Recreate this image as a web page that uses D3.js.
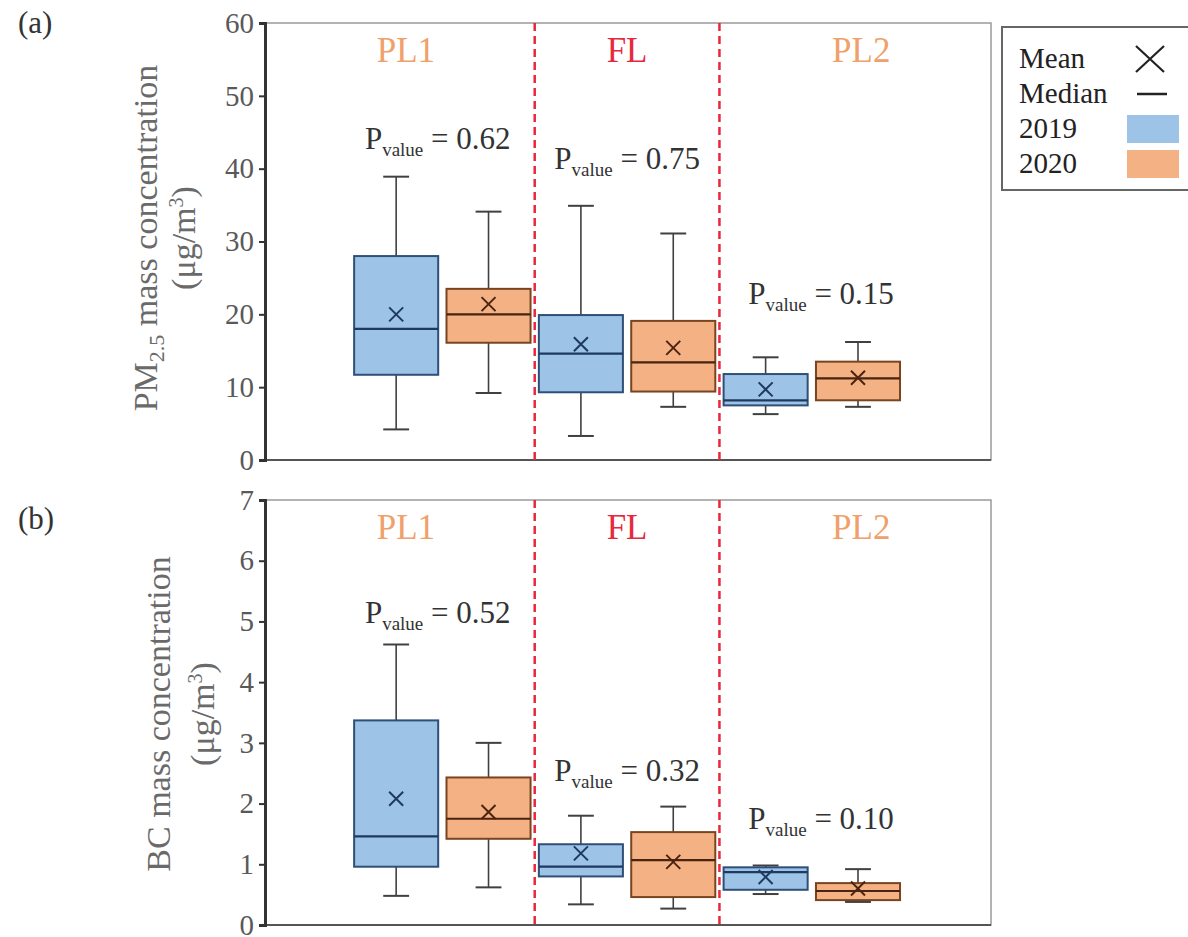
<!DOCTYPE html>
<html>
<head>
<meta charset="utf-8">
<script src="https://cdn.jsdelivr.net/npm/d3@7"></script>
<style>
  html, body { margin: 0; padding: 0; background: #fff; }
  svg { display: block; }
  svg text { font-family: "Liberation Serif", "Times New Roman", serif; }
</style>
</head>
<body>
<svg id="chart" width="1188" height="937"></svg>
<script>
// Periods and years
const periods = ["PL1", "FL", "PL2"];
const years = ["2019", "2020"];
// Box order: PL1-2019, PL1-2020, FL-2019, FL-2020, PL2-2019, PL2-2020

// (a) PM2.5 (µg/m³)
const pmMin  = [4.2, 9.2, 3.3, 7.3, 6.3, 7.3];
const pmQ1   = [11.7, 16.1, 9.3, 9.4, 7.5, 8.2];
const pmMed  = [18.0, 20.0, 14.6, 13.4, 8.2, 11.2];
const pmQ3   = [28.0, 23.5, 19.9, 19.1, 11.8, 13.5];
const pmMax  = [38.9, 34.1, 34.9, 31.1, 14.1, 16.2];
const pmMean = [20.0, 21.4, 15.9, 15.4, 9.7, 11.3];
const pmTicks = [0, 10, 20, 30, 40, 50, 60];
const pmP = ["0.62", "0.75", "0.15"];

// (b) BC (µg/m³)
const bcMin  = [0.48, 0.62, 0.34, 0.27, 0.51, 0.38];
const bcQ1   = [0.96, 1.42, 0.80, 0.46, 0.58, 0.41];
const bcMed  = [1.46, 1.75, 0.96, 1.07, 0.87, 0.56];
const bcQ3   = [3.37, 2.43, 1.33, 1.53, 0.95, 0.69];
const bcMax  = [4.62, 3.00, 1.80, 1.95, 0.98, 0.92];
const bcMean = [2.08, 1.86, 1.18, 1.04, 0.79, 0.60];
const bcTicks = [0, 1, 2, 3, 4, 5, 6, 7];
const bcP = ["0.52", "0.32", "0.10"];

const yearStyle = {
  "2019": { fill: "#9dc3e6", stroke: "#2f4f78", mark: "#1f3a60" },
  "2020": { fill: "#f4b183", stroke: "#7a4420", mark: "#4a2410" }
};
const periodColor = { "PL1": "#f0a06a", "FL": "#e8283c", "PL2": "#f0a06a" };

const svg = d3.select("#chart");

// shared horizontal layout: slot index -> pixel
const x = d3.scaleLinear().domain([-1.42, 6.44]).range([265, 991]);
const boxW = 0.91;   // in slot units
const capW = 0.28;

function panel(cfg) {
  const y = d3.scaleLinear().domain([0, cfg.yMax]).range(cfg.yRange);
  const g = svg.append("g");
  const [x0, x1] = x.range();
  const [yb, yt] = cfg.yRange;

  // frame
  g.append("rect").attr("x", x0).attr("y", yt).attr("width", x1 - x0).attr("height", yb - yt)
    .attr("fill", "none").attr("stroke", "#9a9a9a").attr("stroke-width", 1.5);
  g.append("line").attr("x1", x0).attr("x2", x1).attr("y1", yb).attr("y2", yb)
    .attr("stroke", "#555").attr("stroke-width", 2);

  // y axis
  const ax = g.append("g").attr("transform", `translate(${x0},0)`)
    .call(d3.axisLeft(y).tickValues(cfg.ticks).tickSize(6).tickPadding(5).tickFormat(d3.format("d")));
  ax.attr("font-family", null);
  ax.select(".domain").attr("stroke", "#333").attr("stroke-width", 3);
  ax.selectAll(".tick line").attr("stroke", "#333").attr("stroke-width", 2);
  ax.selectAll(".tick text").attr("fill", "#595959").attr("font-size", 29);

  // period dividers
  [1.5, 3.5].forEach(s => {
    g.append("line").attr("x1", x(s)).attr("x2", x(s)).attr("y1", yt).attr("y2", yb)
      .attr("stroke", "#e8283c").attr("stroke-width", 2.5).attr("stroke-dasharray", "8,5");
  });

  // period labels
  const periodX = [(x0 + x(1.5)) / 2 + 6, (x(1.5) + x(3.5)) / 2, (x(3.5) + x1) / 2 + 6];
  periods.forEach((p, i) => {
    g.append("text").attr("x", periodX[i]).attr("y", yt + 39).attr("text-anchor", "middle")
      .attr("font-size", 35).attr("fill", periodColor[p]).text(p);
  });

  // boxes
  const d = cfg.min.map((_, i) => ({
    i, year: years[i % 2], min: cfg.min[i], q1: cfg.q1[i], med: cfg.med[i],
    q3: cfg.q3[i], max: cfg.max[i], mean: cfg.mean[i]
  }));
  const bx = g.selectAll(".box").data(d).join("g").attr("class", "box");
  bx.append("line").attr("x1", b => x(b.i)).attr("x2", b => x(b.i))
    .attr("y1", b => y(b.max)).attr("y2", b => y(b.q3)).attr("stroke", "#404040").attr("stroke-width", 1.6);
  bx.append("line").attr("x1", b => x(b.i)).attr("x2", b => x(b.i))
    .attr("y1", b => y(b.q1)).attr("y2", b => y(b.min)).attr("stroke", "#404040").attr("stroke-width", 1.6);
  bx.append("line").attr("x1", b => x(b.i - capW / 2)).attr("x2", b => x(b.i + capW / 2))
    .attr("y1", b => y(b.max)).attr("y2", b => y(b.max)).attr("stroke", "#404040").attr("stroke-width", 2);
  bx.append("line").attr("x1", b => x(b.i - capW / 2)).attr("x2", b => x(b.i + capW / 2))
    .attr("y1", b => y(b.min)).attr("y2", b => y(b.min)).attr("stroke", "#404040").attr("stroke-width", 2);
  bx.append("rect").attr("x", b => x(b.i - boxW / 2)).attr("width", b => x(b.i + boxW / 2) - x(b.i - boxW / 2))
    .attr("y", b => y(b.q3)).attr("height", b => y(b.q1) - y(b.q3))
    .attr("fill", b => yearStyle[b.year].fill).attr("stroke", b => yearStyle[b.year].stroke).attr("stroke-width", 2);
  bx.append("line").attr("x1", b => x(b.i - boxW / 2)).attr("x2", b => x(b.i + boxW / 2))
    .attr("y1", b => y(b.med)).attr("y2", b => y(b.med))
    .attr("stroke", b => yearStyle[b.year].mark).attr("stroke-width", 2.2);
  const s = 7;
  bx.append("path")
    .attr("d", b => { const cx = x(b.i), cy = y(b.mean);
      return `M${cx - s},${cy - s}L${cx + s},${cy + s}M${cx - s},${cy + s}L${cx + s},${cy - s}`; })
    .attr("stroke", b => yearStyle[b.year].mark).attr("stroke-width", 2).attr("fill", "none");

  // p-value annotations
  cfg.p.forEach((pv, k) => {
    const t = g.append("text").attr("x", x(cfg.pPos[k][0])).attr("y", y(cfg.pPos[k][1]))
      .attr("text-anchor", "middle").attr("font-size", 31).attr("fill", "#333");
    t.append("tspan").text("P");
    t.append("tspan").attr("font-size", 19).attr("dy", 7).text("value");
    t.append("tspan").attr("dy", -7).text(" = " + pv);
  });

  // y title (two lines, rotated)
  const cy = cfg.titleY;
  const t1 = g.append("text").attr("transform", `translate(${cfg.titleX},${cy}) rotate(-90)`)
    .attr("text-anchor", "middle").attr("font-size", 34).attr("fill", "#6a6a6a");
  cfg.title(t1);
  const t2 = g.append("text").attr("transform", `translate(${cfg.titleX + cfg.lineGap},${cy}) rotate(-90)`)
    .attr("text-anchor", "middle").attr("font-size", 34).attr("fill", "#6a6a6a");
  t2.append("tspan").text("(μg/m");
  t2.append("tspan").attr("font-size", 20).attr("dy", -12).text("3");
  t2.append("tspan").attr("dy", 12).text(")");

  // panel letter
  svg.append("text").attr("x", 18).attr("y", cfg.letterY).attr("font-size", 31).attr("fill", "#333").text(cfg.letter);
}

panel({
  yMax: 60, yRange: [460, 23], ticks: pmTicks,
  min: pmMin, q1: pmQ1, med: pmMed, q3: pmQ3, max: pmMax, mean: pmMean,
  p: pmP, pPos: [[0.45, 42.7], [2.5, 39.9], [4.6, 21.4]],
  titleX: 157, titleY: 238, lineGap: 38, letter: "(a)", letterY: 33,
  title: t => {
    t.append("tspan").text("PM");
    t.append("tspan").attr("font-size", 22).attr("dy", 7).text("2.5");
    t.append("tspan").attr("dy", -7).text(" mass concentration");
  }
});

panel({
  yMax: 7, yRange: [925, 500], ticks: bcTicks,
  min: bcMin, q1: bcQ1, med: bcMed, q3: bcQ3, max: bcMax, mean: bcMean,
  p: bcP, pPos: [[0.45, 4.98], [2.5, 2.38], [4.6, 1.58]],
  titleX: 170, titleY: 714, lineGap: 44, letter: "(b)", letterY: 529,
  title: t => t.text("BC mass concentration")
});

// legend
const lg = svg.append("g");
lg.append("rect").attr("x", 1002).attr("y", 27).attr("width", 200).attr("height", 163)
  .attr("fill", "#fff").attr("stroke", "#666").attr("stroke-width", 2);
const legendItems = ["Mean", "Median", "2019", "2020"];
legendItems.forEach((name, k) => {
  const cy = 59 + k * 35;
  lg.append("text").attr("x", 1019).attr("y", cy + 9).attr("font-size", 29).attr("fill", "#222").text(name);
  if (name === "Mean") {
    lg.append("path").attr("d", `M1136,${cy - 13}L1164,${cy + 13}M1136,${cy + 13}L1164,${cy - 13}`)
      .attr("stroke", "#222").attr("stroke-width", 2.2);
  } else if (name === "Median") {
    lg.append("line").attr("x1", 1137).attr("x2", 1167).attr("y1", cy).attr("y2", cy)
      .attr("stroke", "#222").attr("stroke-width", 2.5);
  } else {
    lg.append("rect").attr("x", 1127).attr("y", cy - 14).attr("width", 52).attr("height", 28)
      .attr("fill", yearStyle[name].fill);
  }
});
</script>
</body>
</html>
